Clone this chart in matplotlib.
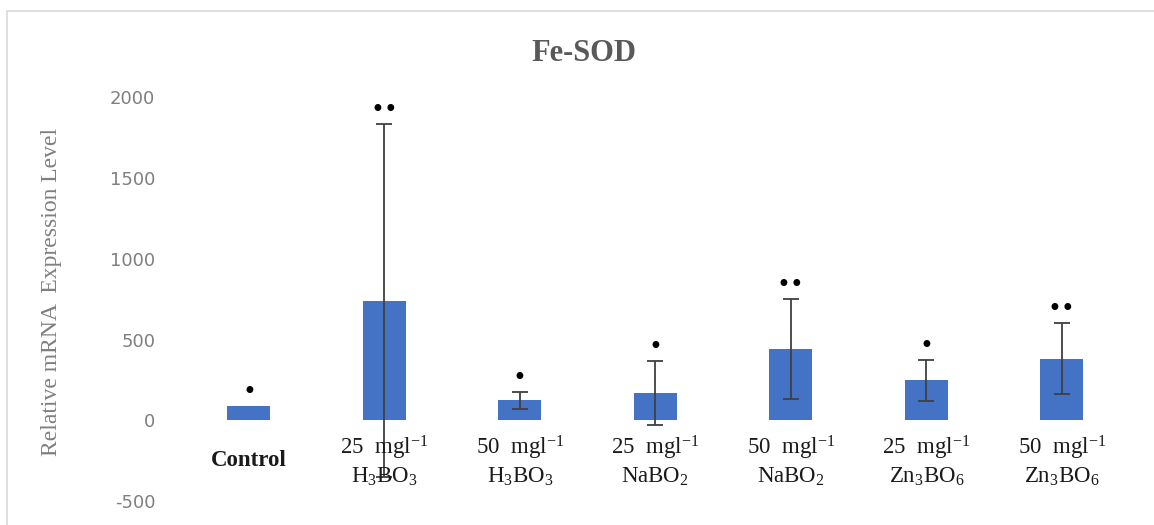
import numpy as np
import matplotlib as mpl
mpl.use('Agg')
import matplotlib.pyplot as plt
from matplotlib.patches import Rectangle

# values
groups = ["Control",
          "25  mgl$^{-1}$\nH$_3$BO$_3$",
          "50  mgl$^{-1}$\nH$_3$BO$_3$",
          "25  mgl$^{-1}$\nNaBO$_2$",
          "50  mgl$^{-1}$\nNaBO$_2$",
          "25  mgl$^{-1}$\nZn$_3$BO$_6$",
          "50  mgl$^{-1}$\nZn$_3$BO$_6$"]
means = [88, 742, 124, 171, 445, 249, 381]
errs = [np.nan, 1093, 51, 198, 309, 128, 220]
stars = ["•", "••", "•", "•", "••", "•", "••"]
yticks = [-500, 0, 500, 1000, 1500, 2000]

plt.rcParams['mathtext.fontset'] = 'custom'
plt.rcParams['mathtext.rm'] = 'Liberation Serif'
plt.rcParams['mathtext.it'] = 'Liberation Serif:italic'
plt.rcParams['mathtext.bf'] = 'Liberation Serif:bold'

fig = plt.figure(figsize=(11.54, 5.25), dpi=100)
ax = fig.add_axes([0.1453, 0.0297, 0.8452, 0.8099])

x_pos = np.arange(len(groups))
ax.bar(x_pos, means, width=0.317, color='#4472C4', zorder=2)
ax.errorbar(x_pos, means, yerr=errs, fmt='none', ecolor='#404040',
            elinewidth=1.3, capsize=6, capthick=1.3, zorder=3)

for i in range(len(groups)):
    top = means[i] if np.isnan(errs[i]) else means[i] + errs[i]
    ax.annotate(stars[i], (x_pos[i], top), xytext=(0, 10), textcoords='offset points',
                ha='center', va='center', fontsize=17, color='black',
                family='DejaVu Sans')
    ax.text(x_pos[i], -250, groups[i], ha='center', va='center',
            fontsize=16.5, family='Liberation Serif', color='#1a1a1a',
            linespacing=1.25, fontweight='bold' if i == 0 else 'normal')

ax.set_xlim(-0.6, 6.6)
ax.set_ylim(-550, 2080)
ax.set_xticks([])
ax.set_yticks(yticks)
ax.set_yticklabels([str(t) for t in yticks], fontsize=13, color='#7f7f7f',
                   family='DejaVu Sans')
ax.tick_params(axis='y', length=0, pad=9)
for s in ax.spines.values():
    s.set_visible(False)

fig.text(0.506, 0.899, "Fe-SOD", ha='center', va='center', fontsize=22,
         fontweight='bold', family='Liberation Serif', color='#595959')
fig.text(0.045, 0.444, "Relative mRNA  Expression Level", rotation=90,
         ha='center', va='center', fontsize=17, family='Liberation Serif',
         color='#7f7f7f')

# light chart border (top and left visible)
fig.patches.append(Rectangle((0.006, -0.1), 1.2, 1.1 - 11 / 525, fill=False,
                             edgecolor='#d9d9d9', lw=1.2,
                             transform=fig.transFigure, figure=fig))

plt.savefig("out.png", dpi=100)
